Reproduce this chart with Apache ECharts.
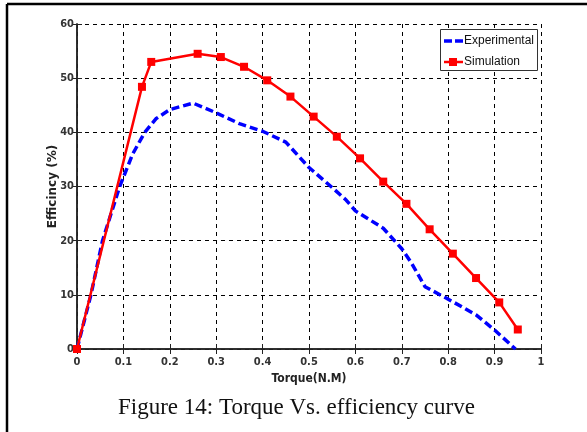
<!DOCTYPE html>
<html>
<head>
<meta charset="utf-8">
<script src="https://cdn.jsdelivr.net/npm/echarts@6/dist/echarts.min.js"></script>
<style>
  html, body { margin: 0; padding: 0; background: #fff; }
  #chart { width: 587px; height: 432px; }
</style>
</head>
<body>
<div id="chart"></div>
<script>
  // Simulation curve (markers)
  const simTorque = [0, 0.14, 0.16, 0.26, 0.31, 0.36, 0.41, 0.46, 0.51, 0.56, 0.61, 0.66, 0.71, 0.76, 0.81, 0.86, 0.91, 0.95]
  const simEff = [0, 48.4, 53.0, 54.5, 53.9, 52.1, 49.6, 46.6, 42.9, 39.2, 35.2, 30.9, 26.8, 22.1, 17.6, 13.1, 8.6, 3.6]

  // Experimental curve (dashed, no markers)
  const expTorque = [0, 0.03, 0.055, 0.092, 0.12, 0.146, 0.17, 0.2, 0.25, 0.3, 0.35, 0.4, 0.45, 0.5, 0.55, 0.58, 0.6, 0.66, 0.7, 0.72, 0.75, 0.8, 0.86, 0.9, 0.945]
  const expEff = [0, 10, 20, 30, 36, 40, 42.5, 44.2, 45.4, 43.6, 41.6, 40.2, 38.2, 33.5, 29.8, 27.5, 25.5, 22.3, 18.5, 16, 11.5, 9.2, 6.3, 3.5, 0]

  const xTicks = ['0', '0.1', '0.2', '0.3', '0.4', '0.5', '0.6', '0.7', '0.8', '0.9', '1']

  const labelFont = '"DejaVu Sans Condensed", "Liberation Sans", Arial, sans-serif'
  const legendFont = '"Liberation Sans", Arial, sans-serif'

  const chart = echarts.init(document.getElementById('chart'))

  const pairs = (xs, ys) => xs.map((x, i) => [x, ys[i]])

  const gridLine = {
    show: true,
    lineStyle: { color: '#000', type: [4, 4], width: 1 }
  }

  const expColor = '#0000ff'
  const simColor = '#ff0000'

  chart.setOption({
    backgroundColor: '#fff',
    animation: false,
    grid: { left: 77, right: 46, top: 24, bottom: 83 },
    xAxis: [{
      type: 'value',
      min: 0,
      max: 1,
      interval: 0.1,
      name: 'Torque(N.M)',
      nameLocation: 'middle',
      nameGap: 24,
      nameTextStyle: { fontFamily: labelFont, fontSize: 12, fontWeight: 'bold', color: '#222' },
      axisLine: { lineStyle: { color: '#222', width: 1.5 } },
      axisTick: { inside: true, length: 5, lineStyle: { color: '#222' } },
      axisLabel: {
        margin: 8,
        fontFamily: labelFont, fontSize: 11, fontWeight: 'bold', color: '#333',
        formatter: v => xTicks[Math.round(v * 10)]
      },
      splitLine: gridLine
    }, {
      type: 'value',
      position: 'top',
      min: 0,
      max: 1,
      interval: 0.1,
      axisLine: { lineStyle: { color: '#222', width: 1.5 } },
      axisTick: { inside: true, length: 5, lineStyle: { color: '#222' } },
      axisLabel: { show: false },
      splitLine: { show: false }
    }],
    yAxis: [{
      type: 'value',
      min: 0,
      max: 60,
      interval: 10,
      name: 'Efficincy (%)',
      nameLocation: 'middle',
      nameGap: 18,
      nameMoveOverlap: false,
      nameTextStyle: { fontFamily: '"DejaVu Sans", sans-serif', fontSize: 12, fontWeight: 'bold', color: '#222' },
      axisLine: { show: true, lineStyle: { color: '#222', width: 1.5 } },
      axisTick: { show: true, inside: true, length: 5, lineStyle: { color: '#222' } },
      axisLabel: { margin: 3, fontFamily: labelFont, fontSize: 11, fontWeight: 'bold', color: '#333' },
      splitLine: gridLine
    }, {
      type: 'value',
      position: 'right',
      min: 0,
      max: 60,
      interval: 10,
      axisLine: { show: true, lineStyle: { color: '#222', width: 1.5 } },
      axisTick: { show: true, inside: true, length: 5, lineStyle: { color: '#222' } },
      axisLabel: { show: false },
      splitLine: { show: false }
    }],
    series: [{
      name: 'Experimental',
      type: 'line',
      data: pairs(expTorque, expEff),
      symbol: 'none',
      color: expColor,
      lineStyle: { color: expColor, width: 3.5, type: [8, 4] },
      z: 3
    }, {
      name: 'Simulation',
      type: 'line',
      data: pairs(simTorque, simEff),
      symbol: 'rect',
      symbolSize: 8,
      color: simColor,
      itemStyle: { color: simColor },
      lineStyle: { color: simColor, width: 2.5 },
      z: 4
    }],
    graphic: [
      // outer frame (top + left only, as in the scan)
      { type: 'line', shape: { x1: 7, y1: 4, x2: 587, y2: 4 }, style: { stroke: '#000', lineWidth: 2.5 } },
      { type: 'line', shape: { x1: 7, y1: 4, x2: 7, y2: 432 }, style: { stroke: '#000', lineWidth: 2.5 } },
      // legend box
      { type: 'rect', z: 10, shape: { x: 440.5, y: 29.5, width: 97, height: 41 }, style: { fill: '#fff', stroke: '#333', lineWidth: 1 } },
      { type: 'line', z: 11, shape: { x1: 444, y1: 41, x2: 463, y2: 41 }, style: { stroke: expColor, lineWidth: 3.5, lineDash: [8, 3] } },
      { type: 'text', z: 11, x: 464, y: 41, style: { text: 'Experimental', font: '12px ' + legendFont, fill: '#111', verticalAlign: 'middle' } },
      { type: 'line', z: 11, shape: { x1: 444, y1: 62, x2: 463, y2: 62 }, style: { stroke: simColor, lineWidth: 2.5 } },
      { type: 'rect', z: 11, shape: { x: 449, y: 58, width: 8, height: 8 }, style: { fill: simColor } },
      { type: 'text', z: 11, x: 464, y: 62, style: { text: 'Simulation', font: '12px ' + legendFont, fill: '#111', verticalAlign: 'middle' } },
      // caption
      {
        type: 'text',
        left: 118,
        top: 396,
        style: {
          text: 'Figure 14: Torque Vs. efficiency curve',
          font: '23px "Liberation Serif", "Times New Roman", serif',
          fill: '#111'
        }
      }
    ]
  })
</script>
</body>
</html>
